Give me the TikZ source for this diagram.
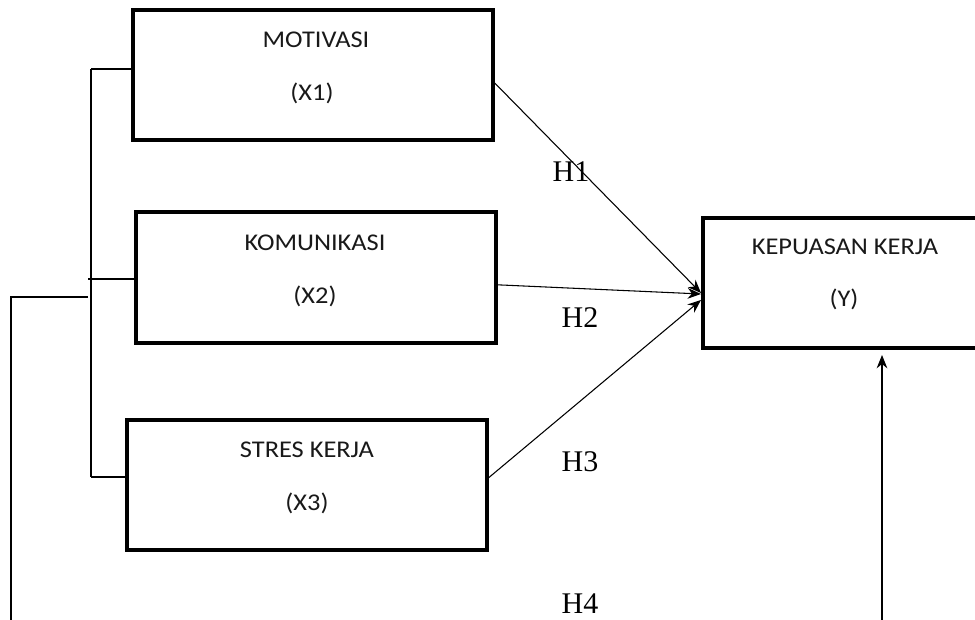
\documentclass[tikz,border=0pt]{standalone}
\usepackage{fontspec}
\setmainfont{Liberation Serif}
\newfontfamily\boxfont[FakeStretch=1.1]{Carlito}
\usetikzlibrary{arrows.meta}
\begin{document}
\begin{tikzpicture}[x=0.75pt,y=-0.75pt,
  box/.style={draw,line width=2.6pt,inner sep=0pt},
  vtext/.style={font=\boxfont\fontsize{18}{21}\selectfont,text=black!90,inner sep=0pt},
  hlab/.style={font=\fontsize{22.5}{26}\selectfont,inner sep=0pt},
  conn/.style={line width=0.8pt},
  arr/.style={conn,-{Stealth[length=10pt,width=8pt]}}]
\useasboundingbox (0,0) rectangle (975,620);
\clip (0,0) rectangle (975,620);
\fill[white] (0,0) rectangle (975,620);
% boxes
\node[box,minimum width=270pt,minimum height=97.5pt] (x1) at (313,75) {};
\node[box,minimum width=270pt,minimum height=98.25pt] (x2) at (316,277.5) {};
\node[box,minimum width=270pt,minimum height=97.5pt] (x3) at (307,485) {};
\node[box,minimum width=214.5pt,minimum height=97.5pt] (y) at (846,283) {};
% box texts
\node[vtext] (t1a) at (316,40) {MOTIVASI};
\node[vtext] (t1b) at (312,93) {(X1)};
\node[vtext] (t2a) at (315,243) {KOMUNIKASI};
\node[vtext] (t2b) at (315,296) {(X2)};
\node[vtext] (t3a) at (307,450) {STRES KERJA};
\node[vtext] (t3b) at (307,503) {(X3)};
\node[vtext] (tya) at (845,247) {KEPUASAN KERJA};
\node[vtext] (tyb) at (844,299) {(Y)};
% hypothesis labels
\node[hlab] (h1) at (571,172) {H1};
\node[hlab] (h2) at (580,318) {H2};
\node[hlab] (h3) at (580,462) {H3};
\node[hlab] (h4) at (580,604) {H4};
% bracket on the left
\coordinate (b1) at (91,69);
\coordinate (b2) at (88,279);
\coordinate (b3) at (91,477);
\coordinate (o1) at (88,297);
\coordinate (o2) at (11,297);
\coordinate (o3) at (11,625);
\draw[conn] (b1) -- (b1 -| x1.west);
\draw[conn] (b2) -- (b2 -| x2.west);
\draw[conn] (b3) -- (b3 -| x3.west);
\draw[conn] (b1) -- (b3);
\draw[conn] (o1) -- (o2) -- (o3);
% arrows to Y
\coordinate (e1) at (701,293);
\coordinate (e2) at (701,294);
\coordinate (e3) at (701,300);
\draw[arr] ([yshift=-6pt]x1.east) -- (e1);
\draw[arr] ([yshift=-5.5pt]x2.east) -- (e2);
\draw[arr] ([yshift=5.5pt]x3.east) -- (e3);
% vertical arrow from below
\coordinate (v0) at (882,625);
\coordinate (v1) at (882,355);
\draw[arr] (v0) -- (v1);
\end{tikzpicture}
\end{document}
